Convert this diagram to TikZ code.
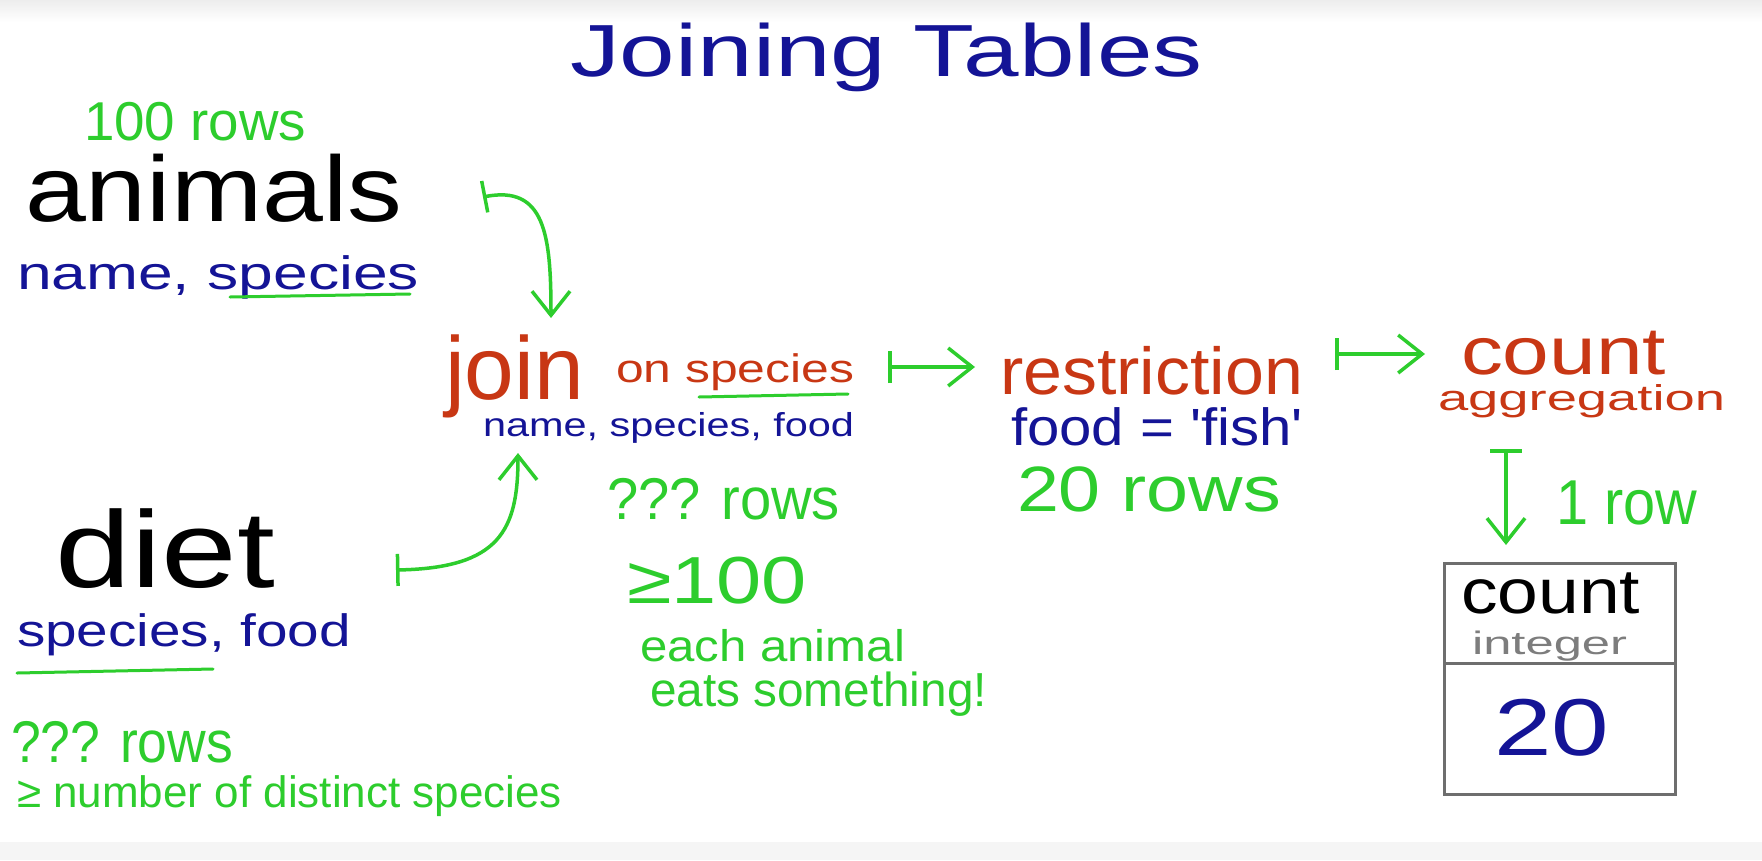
\documentclass[tikz,border=0pt]{standalone}
\usepackage{fontspec}
\usepackage{graphicx}
\newfontfamily\hand{Liberation Sans}
\usetikzlibrary{arrows.meta}
\definecolor{hgreen}{RGB}{45,205,45}
\definecolor{hred}{RGB}{200,55,20}
\definecolor{hblue}{RGB}{20,20,150}
\definecolor{hgray}{RGB}{110,110,110}
\definecolor{lgray}{RGB}{125,125,125}
% width in pt, vertical squash factor, text
\newcommand{\fitw}[3]{\scalebox{1}[#2]{\resizebox{#1pt}{!}{\hand #3}}}
\tikzset{
  txt/.style={anchor=base west, inner sep=0pt, outer sep=0pt},
  arr/.style={hgreen, line width=3.5pt, line cap=round, line join=round,
    {Bar[width=32pt,line width=3.5pt]}-{Straight Barb[length=24pt,width=38pt,line width=3.5pt]}},
  uline/.style={hgreen, line width=3pt, line cap=round},
}
\begin{document}
\begin{tikzpicture}[x=1pt,y=-1pt]
\useasboundingbox[fill=white] (0,0) rectangle (1762,860);
\shade[top color=black!7, bottom color=white] (0,0) rectangle (1762,22);
\fill[black!4] (0,842) rectangle (1762,860);
% title
\node[txt, text=hblue] (title) at (570,76) {\fitw{632}{0.74}{Joining Tables}};
% animals
\node[txt, text=hgreen] (hundred) at (84,140) {\fitw{222}{1.0}{100 rows}};
\node[txt, text=black] (animals) at (25,221) {\fitw{377}{0.85}{animals}};
\node[txt, text=hblue] (animcols) at (17,289) {\fitw{402}{0.75}{name, species}};
\draw[uline] (230,297) -- (410,294);
% diet
\node[txt, text=black] (diet) at (56,587) {\fitw{219}{0.8}{diet}};
\node[txt, text=hblue] (dietcols) at (17,646) {\fitw{334}{0.8}{species, food}};
\draw[uline] (17,673) -- (213,669);
\node[txt, text=hgreen] (dietrows) at (11,762) {\fitw{222}{1.1}{??? rows}};
\node[txt, text=hgreen] (dietge) at (17,807) {\fitw{545}{1.0}{≥ number of distinct species}};
% join
\node[txt, text=hred] (join) at (445,399) {\fitw{139}{1.0}{join}};
\node[txt, text=hred] (onsp) at (616,382) {\fitw{238}{0.8}{on species}};
\draw[uline] (699,397) -- (848,394);
\node[txt, text=hblue] (joincols) at (483,436) {\fitw{371}{0.8}{name, species, food}};
\node[txt, text=hgreen] (joinrows) at (607,519) {\fitw{233}{1.05}{??? rows}};
\node[txt, text=hgreen] (ge) at (627,603) {\fitw{180}{0.82}{≥100}};
\node[txt, text=hgreen] (each) at (640,661) {\fitw{265}{0.9}{each animal}};
\node[txt, text=hgreen] (eats) at (650,706) {\fitw{337}{1.0}{eats something!}};
% restriction
\node[txt, text=hred] (restr) at (1000,394) {\fitw{303}{0.95}{restriction}};
\node[txt, text=hblue] (cond) at (1011,445) {\fitw{292}{0.9}{food = 'fish'}};
\node[txt, text=hgreen] (restrrows) at (1017,511) {\fitw{264}{0.85}{20 rows}};
% count
\node[txt, text=hred] (count) at (1461,374) {\fitw{205}{0.8}{count}};
\node[txt, text=hred] (aggr) at (1438,410) {\fitw{287}{0.66}{aggregation}};
\node[txt, text=hgreen] (onerow) at (1556,524) {\fitw{141}{1.1}{1 row}};
% result table
\node[draw=hgray, line width=3pt, anchor=north west, minimum width=231pt, minimum height=231pt, inner sep=0pt] (tbl) at (1443,562) {};
\draw[hgray, line width=3pt] (tbl.west |- 0,663) -- (tbl.east |- 0,663);
\node[txt, text=black] (tcount) at (1461,613) {\fitw{179}{0.86}{count}};
\node[txt, text=lgray] (tint) at (1472,654) {\fitw{155}{0.64}{integer}};
\node[txt, text=hblue] (tval) at (1494,755) {\fitw{115}{0.78}{20}};
% connectors
\coordinate (animout) at (483,197);
\coordinate (joinin1) at (551,318);
\coordinate (dietout) at (396,570);
\coordinate (joinin2) at (518,453);
\coordinate (joinout) at (888,367);
\coordinate (restrin) at (975,367);
\coordinate (restrout) at (1335,354);
\coordinate (countin) at (1425,354);
\coordinate (countout) at (1506,449);
\coordinate (tblin) at (1506,545);
\draw[arr] (animout) .. controls (545,185) and (551,235) .. (joinin1);
\draw[arr] (dietout) .. controls (500,568) and (518,530) .. (joinin2);
\draw[arr] (joinout) -- (restrin);
\draw[arr] (restrout) -- (countin);
\draw[arr] (countout) -- (tblin);
\end{tikzpicture}
\end{document}
